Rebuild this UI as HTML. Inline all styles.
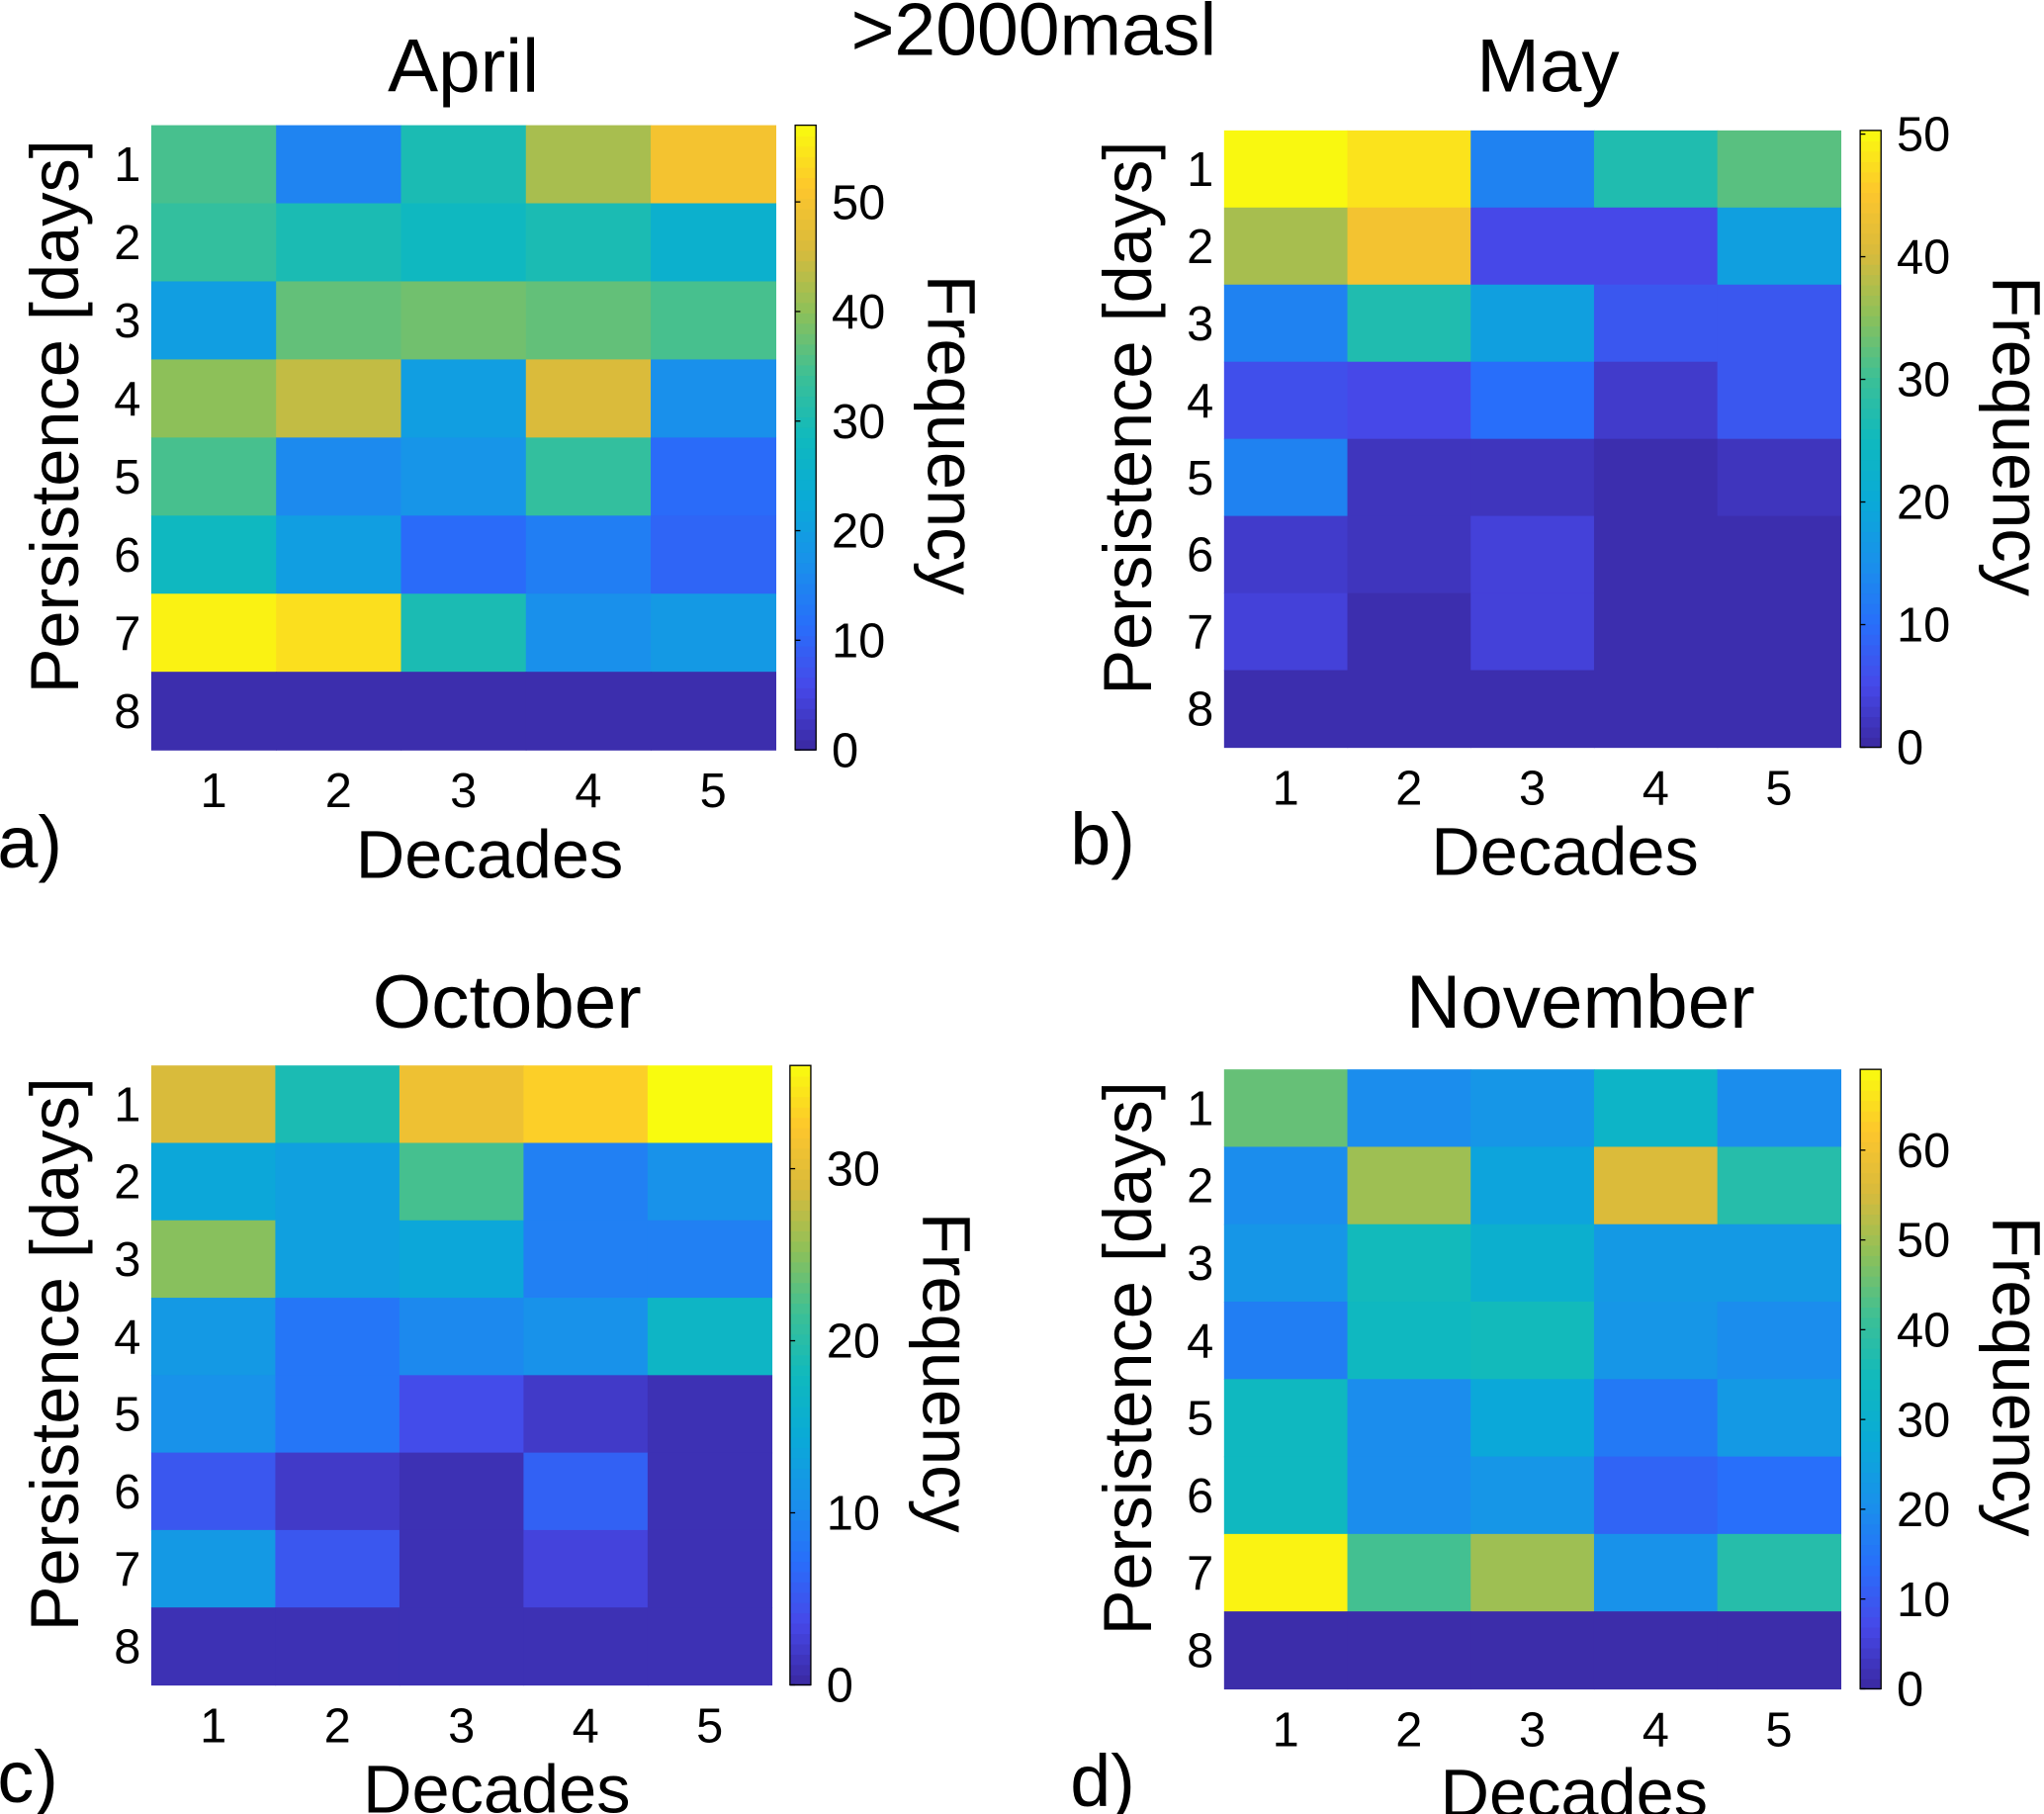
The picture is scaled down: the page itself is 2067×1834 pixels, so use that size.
<!DOCTYPE html>
<html><head><meta charset="utf-8"><style>
html,body{margin:0;padding:0;background:#fff;}
svg{display:block;}
text{font-family:"Liberation Sans",Arial,sans-serif;fill:#000;}
</style></head><body>
<svg id="fig" width="2067" height="1834" viewBox="0 0 1568 1391" preserveAspectRatio="none" xmlns="http://www.w3.org/2000/svg">
<text x="793" y="42" font-size="57" text-anchor="middle">&gt;2000masl</text>
</svg>
<script>
const decades = [1,2,3,4,5];
const persistence = [1,2,3,4,5,6,7,8];
const aprilValues = [
 [35,15,30,42,50],[33,30,28,30,25],[20,37,38,37,35],[40,44,20,46,17],
 [35,16,18,33,11],[28,20,11,14,10],[56,54,30,17,19],[1,1,1,1,1]];
const mayValues = [
 [50,48,13,27,32],[37,44,5,5,18],[13,27,18,7,7],[6,5,10,3,7],
 [13,2,2,1,2],[3,2,4,1,1],[4,1,4,1,1],[1,1,1,1,1]];
const octoberValues = [
 [29,19,31,33,36],[14,13,22,9,11],[25,13,14,9,9],[12,8,10,11,17],
 [11,8,4,2,1],[5,2,1,6,1],[12,5,1,3,1],[1,1,1,1,1]];
const novemberValues = [
 [45,20,22,32,20],[20,50,26,56,38],[22,35,30,23,23],[17,34,35,22,20],
 [34,20,27,16,23],[34,20,22,12,14],[68,42,50,21,38],[1,1,1,1,1]];
const aprilTicks = [0,10,20,30,40,50];
const mayTicks = [0,10,20,30,40,50];
const octoberTicks = [0,10,20,30];
const novemberTicks = [0,10,20,30,40,50,60];

const stops=[[58,40,160],[70,72,232],[40,110,250],[25,145,235],[10,170,215],[15,185,190],[60,192,150],[140,192,90],[215,186,60],[253,198,45],[249,251,14]];
function parula(t){t=Math.max(0,Math.min(1,t));const p=t*(stops.length-1);const i=Math.min(stops.length-2,Math.floor(p));const f=p-i;
 const c=stops[i].map((v,k)=>Math.round(v+(stops[i+1][k]-v)*f));return `rgb(${c[0]},${c[1]},${c[2]})`;}
const svg=document.getElementById('fig');const NS='http://www.w3.org/2000/svg';
function el(tag,attrs,txt){const e=document.createElementNS(NS,tag);for(const k in attrs)e.setAttribute(k,attrs[k]);if(txt!==undefined)e.textContent=txt;svg.appendChild(e);return e;}

function panel(cfg){
 const {x0,x1,y0,y1,cbx,vals,ticks,vmax,title,letter,key,ty,tdx,ddx}=cfg;
 const cw=(x1-x0)/decades.length, rh=(y1-y0)/persistence.length;
 const xs=i=>x0+i*cw, ys=j=>y0+j*rh;
 persistence.forEach((p,j)=>decades.forEach((d,i)=>{
  const r=el('rect',{x:xs(i),y:ys(j),width:cw+0.5,height:rh+0.5,fill:parula(vals[j][i]/vmax)});
  
  
 }));
 let t=el('text',{x:(x0+x1)/2+tdx,y:ty,'font-size':58,'text-anchor':'middle'},title);
 
 decades.forEach((d,i)=>{const e=el('text',{x:xs(i)+cw/2,y:y1+44,'font-size':37,'text-anchor':'middle'},d);
  });
 persistence.forEach((p,j)=>{const e=el('text',{x:x0-8,y:ys(j)+rh/2+13,'font-size':37,'text-anchor':'end'},p);
  });
 t=el('text',{x:(x0+x1)/2+ddx,y:y1+98,'font-size':52,'text-anchor':'middle'},'Decades');
 
 const py=(y0+y1)/2-16, px=x0-56;
 t=el('text',{x:px,y:py,'font-size':52,'text-anchor':'middle',transform:`rotate(-90 ${px} ${py})`},'Persistence [days]');
 
 t=el('text',{x:x0-118,y:y1+90,'font-size':56},letter);
 
 const N=60, cbw=16, ch=(y1-y0)/N;
 for(let k=0;k<N;k++){const r=el('rect',{x:cbx,y:y1-(k+1)*ch,width:cbw,height:ch+0.6,fill:parula((k+0.5)/N)});
  }
 const b=el('rect',{x:cbx,y:y0,width:cbw,height:y1-y0,fill:'none',stroke:'#000','stroke-width':1});
 
 const cy=v=>y1-(v/vmax)*(y1-y0);
 ticks.forEach(v=>{const ln=el('line',{x1:cbx,x2:cbx+4,y1:cy(v),y2:cy(v),stroke:'#000'});
  
  const e=el('text',{x:cbx+28,y:cy(v)+13,'font-size':37},v);
  });
 const fx=cbx+102, fy=(y0+y1)/2-2;
 t=el('text',{x:fx,y:fy,'font-size':52,'text-anchor':'middle',transform:`rotate(90 ${fx} ${fy})`},'Frequency');
 
}
panel({key:'april',x0:116,x1:595,y0:96,y1:575,cbx:610,vals:aprilValues,ticks:aprilTicks,vmax:57,title:'April',letter:'a)',ty:70,tdx:0,ddx:20});
panel({key:'may',x0:939,x1:1412,y0:100,y1:573,cbx:1427,vals:mayValues,ticks:mayTicks,vmax:50.3,title:'May',letter:'b)',ty:70,tdx:12,ddx:25});
panel({key:'october',x0:116,x1:592,y0:817,y1:1292,cbx:606,vals:octoberValues,ticks:octoberTicks,vmax:36,title:'October',letter:'c)',ty:788,tdx:35,ddx:27});
panel({key:'november',x0:939,x1:1412,y0:820,y1:1295,cbx:1427,vals:novemberValues,ticks:novemberTicks,vmax:69,title:'November',letter:'d)',ty:788,tdx:37,ddx:32});
</script>
</body></html>
